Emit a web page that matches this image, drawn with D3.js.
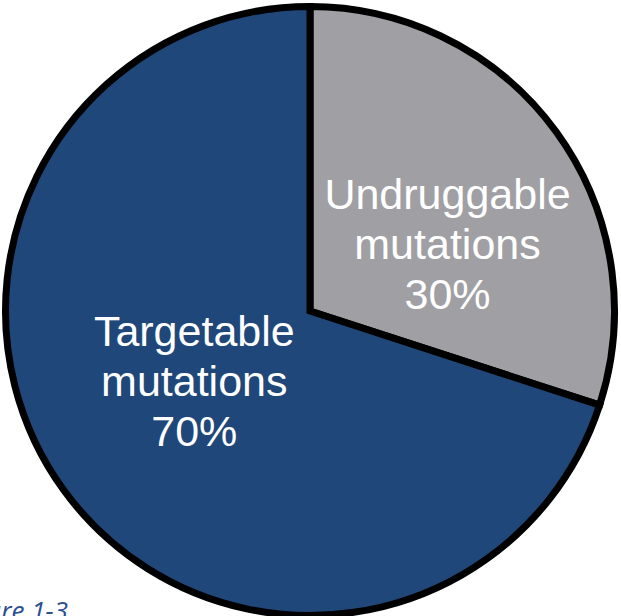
<!DOCTYPE html>
<html>
<head>
<meta charset="utf-8">
<script src="https://cdn.jsdelivr.net/npm/d3@7"></script>
<style>
  html, body { margin: 0; padding: 0; background: #ffffff; }
  svg { display: block; }
</style>
</head>
<body>
<svg id="chart" width="621" height="616"></svg>
<script>
// Share of mutation types
const categories = ["Undruggable", "Targetable"];
const labelLines = [["Undruggable", "mutations"], ["Targetable", "mutations"]];
const values = [30, 70];
const colors = ["#a09fa4", "#1f4779"];
const caption = "Figure 1-3";

const svg = d3.select("#chart");
const cx = 310, cy = 311;
const radius = 304.5;

const pie = d3.pie().sort(null).value(d => d)(values);
const arc = d3.arc().innerRadius(0).outerRadius(radius);

const g = svg.append("g").attr("transform", `translate(${cx},${cy})`);

g.selectAll("path.slice")
  .data(pie)
  .join("path")
  .attr("class", "slice")
  .attr("d", arc)
  .attr("fill", (d, i) => colors[i])
  .attr("stroke", "#000")
  .attr("stroke-width", 7)
  .attr("stroke-linejoin", "miter");

// Label anchors: centroid on a ring, then nudged into the open area of each slice
const labelRing = [153, 135];
const labelTurn = [10, 5]; // degrees, clockwise
const fmt = d3.format(".0f");

const labels = g.selectAll("text.label")
  .data(pie)
  .join("text")
  .attr("class", "label")
  .attr("text-anchor", "middle")
  .attr("fill", "#ffffff")
  .attr("font-family", "'Liberation Sans', Arial, sans-serif")
  .attr("font-size", 43)
  .attr("transform", (d, i) => {
    const mid = (d.startAngle + d.endAngle) / 2 + labelTurn[i] * Math.PI / 180;
    const x = labelRing[i] * Math.sin(mid);
    const y = -labelRing[i] * Math.cos(mid);
    return `translate(${x},${y + 15})`;
  });

labels.each(function(d, i) {
  const t = d3.select(this);
  const lines = [...labelLines[i], fmt(values[i]) + "%"];
  lines.forEach((line, j) => {
    t.append("tspan")
      .attr("x", 0)
      .attr("y", (j - 1) * 50)
      .text(line);
  });
});

// Caption, partly beyond the lower-left corner of the frame
svg.append("text")
  .attr("x", 68)
  .attr("y", 620)
  .attr("text-anchor", "end")
  .attr("fill", "#2c4f8f")
  .attr("font-family", "'Open Sans', sans-serif")
  .attr("font-style", "italic")
  .attr("font-size", 26)
  .text(caption);
</script>
</body>
</html>
